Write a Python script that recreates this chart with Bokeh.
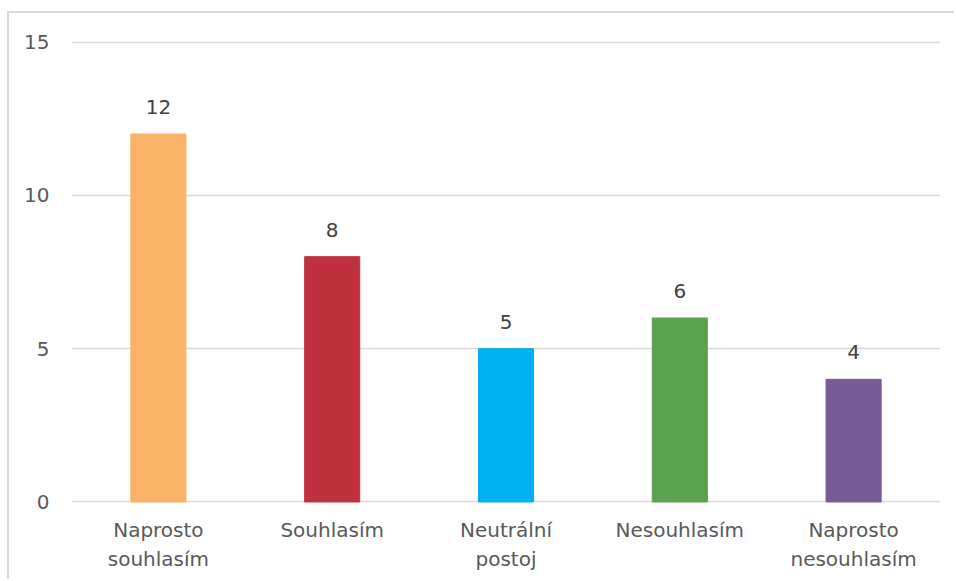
from bokeh.plotting import figure
from bokeh.models import ColumnDataSource, LabelSet, FixedTicker, Range1d
from bokeh.core.properties import value
from bokeh.embed import file_html
from bokeh.resources import INLINE

categories = ["Naprosto\nsouhlasím", "Souhlasím", "Neutrální\npostoj", "Nesouhlasím", "Naprosto\nnesouhlasím"]
counts = [12, 8, 5, 6, 4]
colors = ["#F9B268", "#C0313F", "#00B0F0", "#5BA24F", "#775A96"]
y_ticks = [0, 5, 10, 15]

FONT = "DejaVu Sans"
FONT_SIZE = "20px"

src = ColumnDataSource(dict(cat=categories, n=counts, color=colors,
                            label=[str(c) for c in counts]))

# chart area sits inside a light border on the left/top edge of the page
p = figure(x_range=categories, y_range=Range1d(-0.05, 15.05), width=947, height=568,
           output_backend="svg", toolbar_location=None,
           min_border_left=62, min_border_right=16, min_border_top=27, min_border_bottom=78)
p.margin = (11, 0, 0, 7)
p.styles = {"border-left": "2px solid #D9D9D9", "border-top": "2px solid #D9D9D9"}
p.outline_line_color = None
p.background_fill_color = "white"
p.border_fill_color = "white"

p.vbar(x="cat", top="n", width=0.317, color="color", source=src)

p.add_layout(LabelSet(x="cat", y="n", text="label", source=src, text_align="center",
                      text_baseline="bottom", y_offset=20, text_font=value(FONT),
                      text_font_size=FONT_SIZE, text_color="#404040"))

p.xgrid.grid_line_color = None
p.ygrid.grid_line_color = "#D9D9D9"
p.ygrid.grid_line_width = 1.5
p.yaxis.ticker = FixedTicker(ticks=y_ticks)

for ax in (p.xaxis, p.yaxis):
    ax.axis_line_color = None
    ax.major_tick_line_color = None
    ax.minor_tick_line_color = None
    ax.major_label_text_font = FONT
    ax.major_label_text_font_size = FONT_SIZE
    ax.major_label_text_color = "#595959"
p.yaxis.major_label_standoff = 16
p.xaxis.major_label_standoff = 8
p.xaxis.major_label_text_line_height = 1.22

open("out.html", "w").write(file_html(p, INLINE))
